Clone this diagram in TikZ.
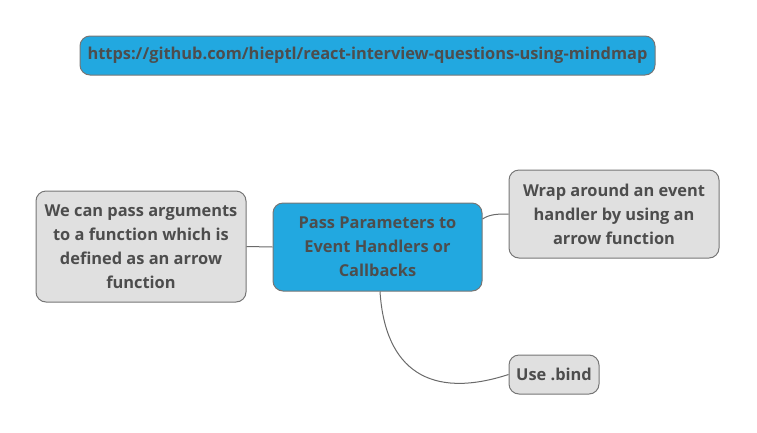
\documentclass[tikz,border=0pt]{standalone}
\usepackage{fontspec}
\setmainfont{Open Sans}[BoldFont={* Bold}]
\usepackage{tikz}
\usetikzlibrary{positioning}

\definecolor{topicblue}{RGB}{34,168,224}
\definecolor{leafgray}{RGB}{224,224,224}
\definecolor{edgegray}{RGB}{118,118,118}
\definecolor{textgray}{RGB}{77,77,77}

\begin{document}
\begin{tikzpicture}[
    x=1pt, y=-1pt,
    topic/.style={rectangle, rounded corners=10pt, draw=edgegray, line width=1pt, fill=topicblue, align=center, text=textgray, font=\fontsize{16.4}{24}\selectfont\bfseries, inner sep=0pt},
    leaf/.style={topic, fill=leafgray},
    branch/.style={draw=edgegray!90!black, line width=1pt}
]
\useasboundingbox (0,0) rectangle (757,432);

% Link on top
\node[topic, minimum width=575pt, minimum height=39pt] (link) at (367.5,55.5) {https://github.com/hieptl/react-interview-questions-using-mindmap};

% Central topic
\node[topic, minimum width=209pt, minimum height=88pt] (center) at (377.5,247) {Pass Parameters to\\Event Handlers or\\Callbacks};

% Leaves
\node[leaf, minimum width=210pt, minimum height=111pt] (arguments) at (141,246.5) {We can pass arguments\\to a function which is\\defined as an arrow\\function};
\node[leaf, minimum width=210pt, minimum height=88pt] (wrap) at (614,214) {Wrap around an event\\handler by using an\\arrow function};
\node[leaf, minimum width=90pt, minimum height=39pt] (bind) at (554,374.5) {Use .bind};

% Branches
\draw[branch] (center.west) -- (arguments.east);
\draw[branch] (center.east |- 0,219) .. controls (490,214) and (498,214) .. (wrap.west);
\draw[branch] (center.south -| 380,0) .. controls (385,370) and (430,400) .. (bind.west);

\end{tikzpicture}
\end{document}
